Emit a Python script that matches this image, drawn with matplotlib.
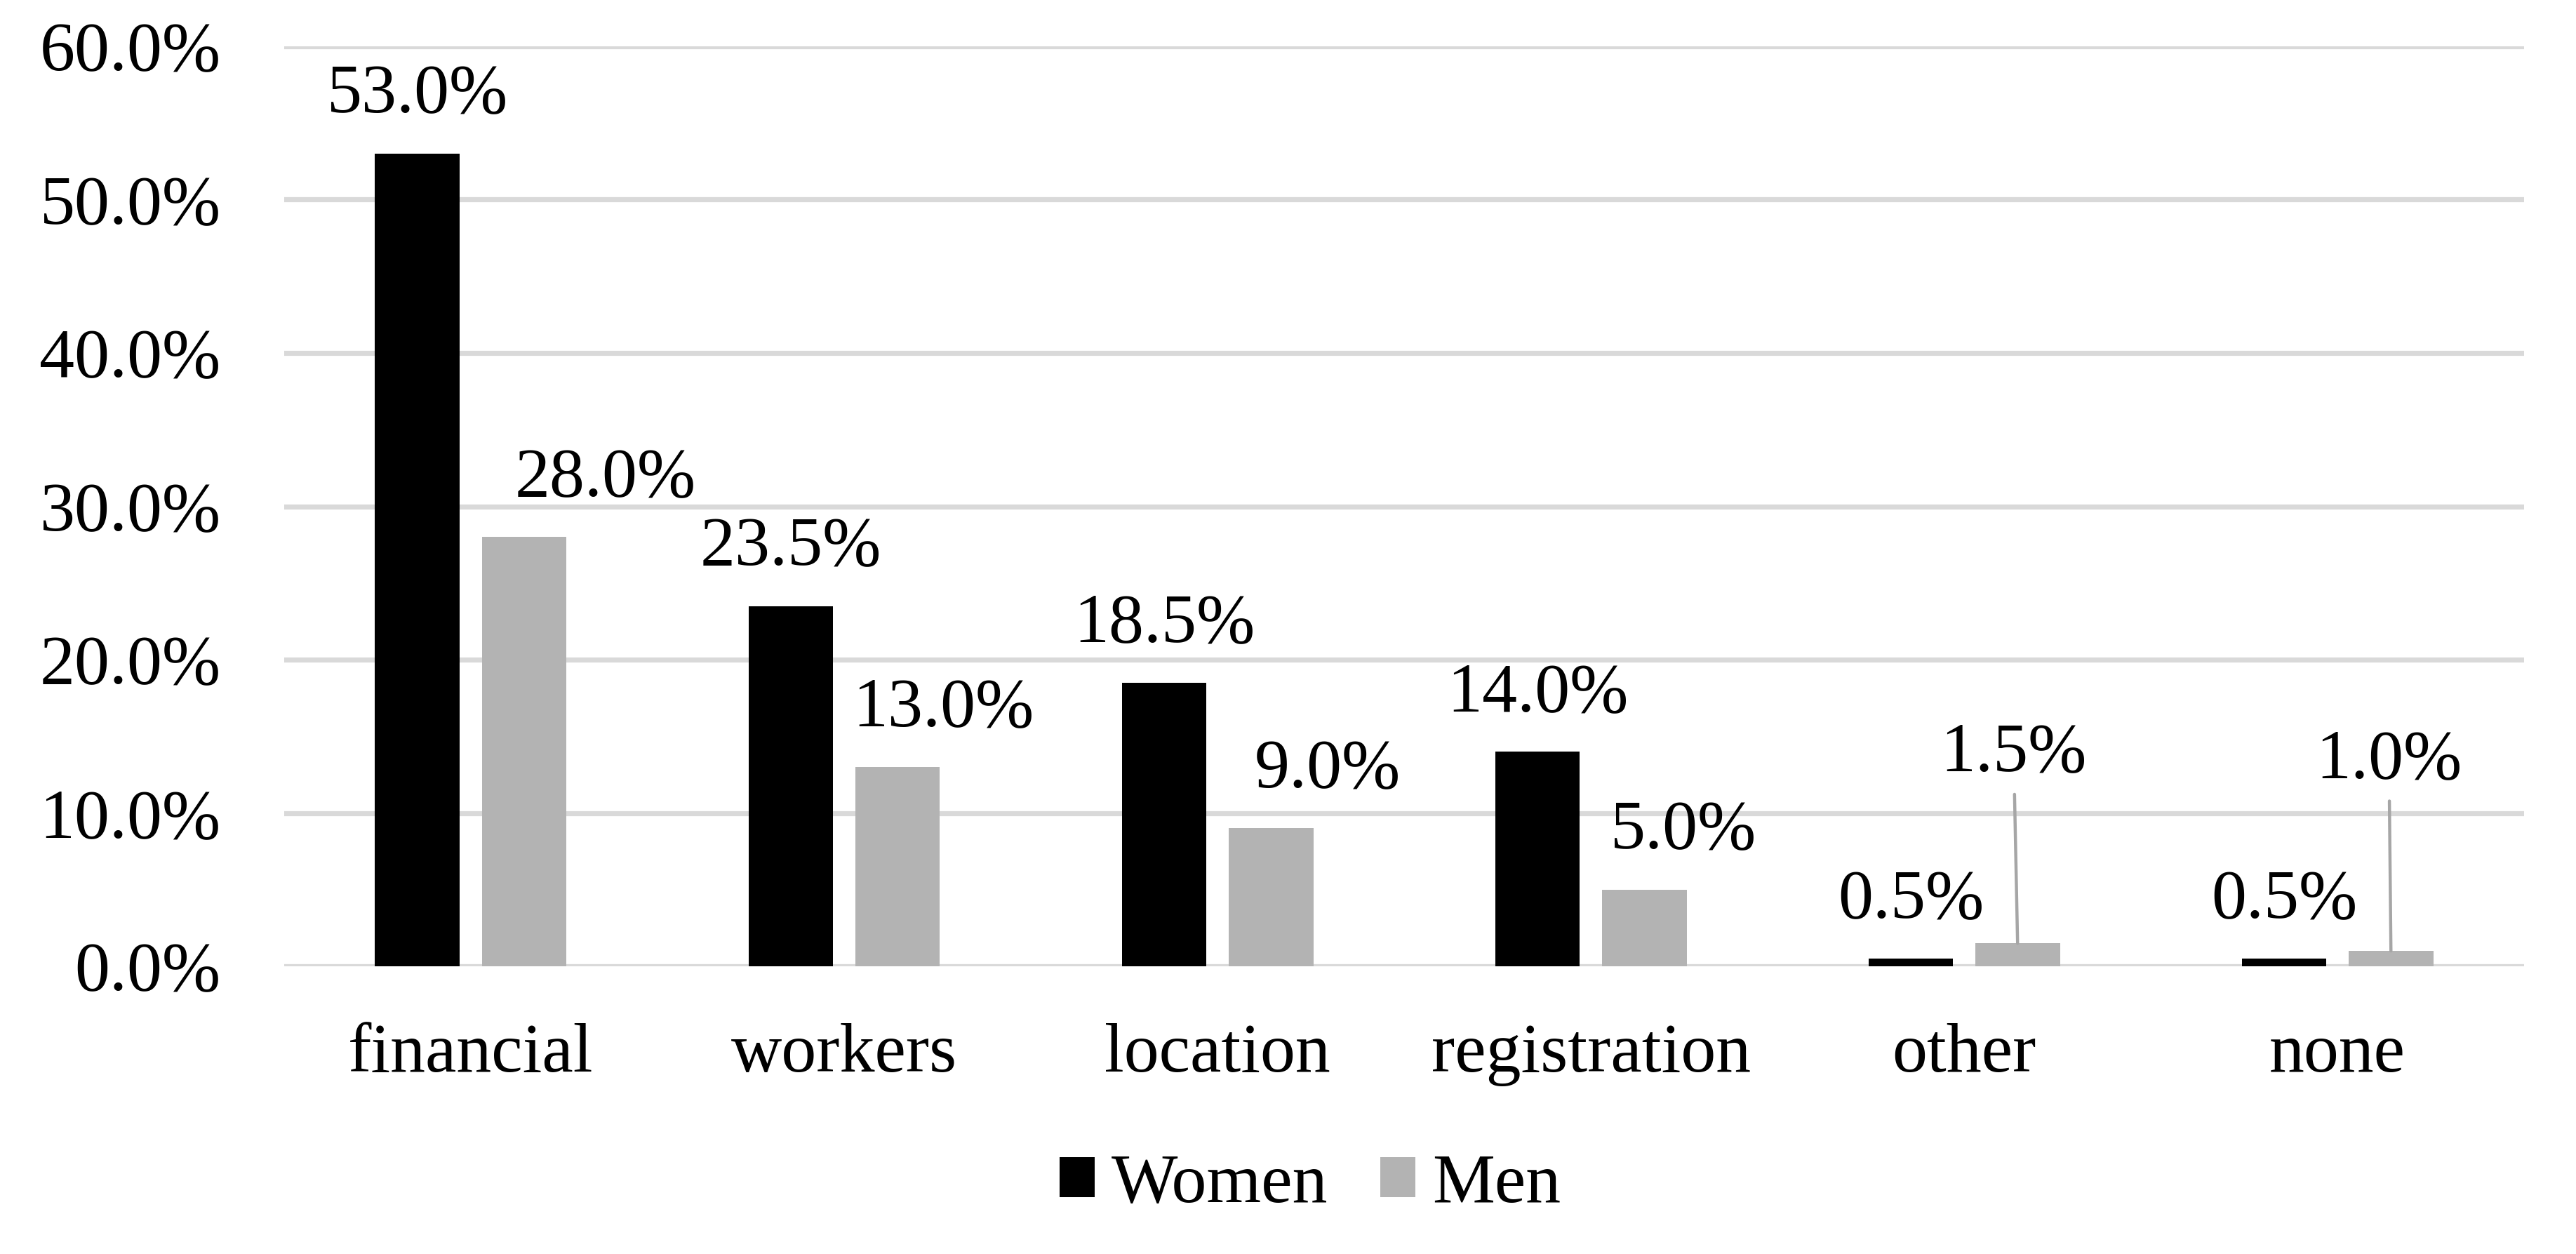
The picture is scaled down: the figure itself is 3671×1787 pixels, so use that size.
import numpy as np
import matplotlib
matplotlib.use("Agg")
import matplotlib.pyplot as plt

plt.rcParams['font.family'] = ['Liberation Serif', 'DejaVu Serif']

categories = ["financial", "workers", "location", "registration", "other", "none"]
women = [53.0, 23.5, 18.5, 14.0, 0.5, 0.5]
men = [28.0, 13.0, 9.0, 5.0, 1.5, 1.0]
yticks = [0, 10, 20, 30, 40, 50, 60]

# label placement (points), the Excel labels were nudged by hand
men_dx = [83, 47, 58, 40, -4, -2]
men_dy = [42, 42, 42, 42, 177, 178]
men_leader = [False, False, False, False, True, True]

fig = plt.figure(figsize=(36.71, 17.87), dpi=100)
ax = fig.add_axes([0.1103, 0.2294, 0.8696, 0.7337])

x = np.arange(len(categories))
w = 0.227
off = 0.143
fs = 72

ax.bar(x - off, women, w, color="black", label="Women", zorder=3)
ax.bar(x + off, men, w, color="#B3B3B3", label="Men", zorder=3)

for i, v in enumerate(women):
    ax.annotate(f"{v:.1f}%", xy=(x[i] - off, v), xytext=(0, 42),
                textcoords="offset points", ha="center", va="baseline",
                fontsize=fs, zorder=4)

for i, v in enumerate(men):
    props = None
    if men_leader[i]:
        props = dict(arrowstyle="-", color="#A6A6A6", lw=3.2,
                     shrinkA=7, shrinkB=0)
    ax.annotate(f"{v:.1f}%", xy=(x[i] + off, v), xytext=(men_dx[i], men_dy[i]),
                textcoords="offset points", ha="center", va="baseline",
                fontsize=fs, zorder=4, arrowprops=props)

ax.set_xlim(-0.5, len(categories) - 0.5)
ax.set_ylim(0, 60)
ax.set_yticks(yticks)
ax.set_yticklabels([f"{t:.1f}%" for t in yticks], fontsize=fs)
ax.set_xticks(x)
ax.set_xticklabels(categories, fontsize=fs)
ax.tick_params(axis="y", length=0, pad=65)
ax.tick_params(axis="x", length=0, pad=58)

ax.grid(axis="y", color="#D9D9D9", lw=5.2, zorder=0)
ax.set_axisbelow(True)
for s in ax.spines.values():
    s.set_visible(False)

fig.legend(loc="center", bbox_to_anchor=(0.5086, 0.055), ncol=2, frameon=False,
           fontsize=fs, handlelength=0.5, handleheight=0.5, handletextpad=0.24,
           columnspacing=0.75)

fig.savefig("out.png", dpi=100, facecolor="white")
